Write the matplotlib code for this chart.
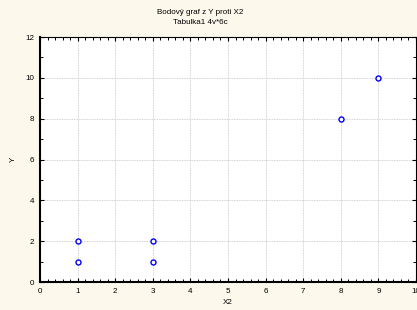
import matplotlib
matplotlib.use("Agg")
import matplotlib.pyplot as plt
from matplotlib.ticker import MultipleLocator

x2 = [1, 1, 3, 3, 8, 9]
y = [1, 2, 1, 2, 8, 10]
title = "Bodový graf z Y proti X2\nTabulka1 4v*6c"

plt.rcParams['font.family'] = ['Liberation Sans', 'DejaVu Sans']
fig = plt.figure(figsize=(4.17, 3.10), dpi=100, facecolor='#fdf8ec')
ax = fig.add_axes([0.0959, 0.0903, 0.9017, 0.7903])
ax.set_facecolor('white')
ax.scatter(x2, y, s=13, facecolors='white', edgecolors='#0000ff', linewidths=1.0, zorder=3, clip_on=False)
ax.set_xlim(0, 10)
ax.set_ylim(0, 12)
ax.xaxis.set_major_locator(MultipleLocator(1))
ax.xaxis.set_minor_locator(MultipleLocator(0.2))
ax.yaxis.set_major_locator(MultipleLocator(2))
ax.yaxis.set_minor_locator(MultipleLocator(1))
ax.grid(True, which='major', color='#c4c4c4', linestyle=(0, (1, 1)), linewidth=0.6)
ax.tick_params(which='both', direction='in', top=True, right=True, labelsize=5.8, colors='black', pad=4)
ax.tick_params(which='major', length=3, width=0.8)
ax.tick_params(which='minor', length=2, width=0.7)
for s in ['left', 'bottom']:
    ax.spines[s].set_linewidth(1.5)
for s in ['top', 'right']:
    ax.spines[s].set_linewidth(0.8)
ax.set_xlabel("X2", fontsize=5.8, labelpad=3)
ax.set_ylabel("Y", fontsize=5.8, labelpad=6)
fig.text(0.48, 0.97, title, ha='center', va='top', fontsize=5.8, linespacing=1.6)
fig.savefig("out.png", dpi=100, facecolor=fig.get_facecolor())
